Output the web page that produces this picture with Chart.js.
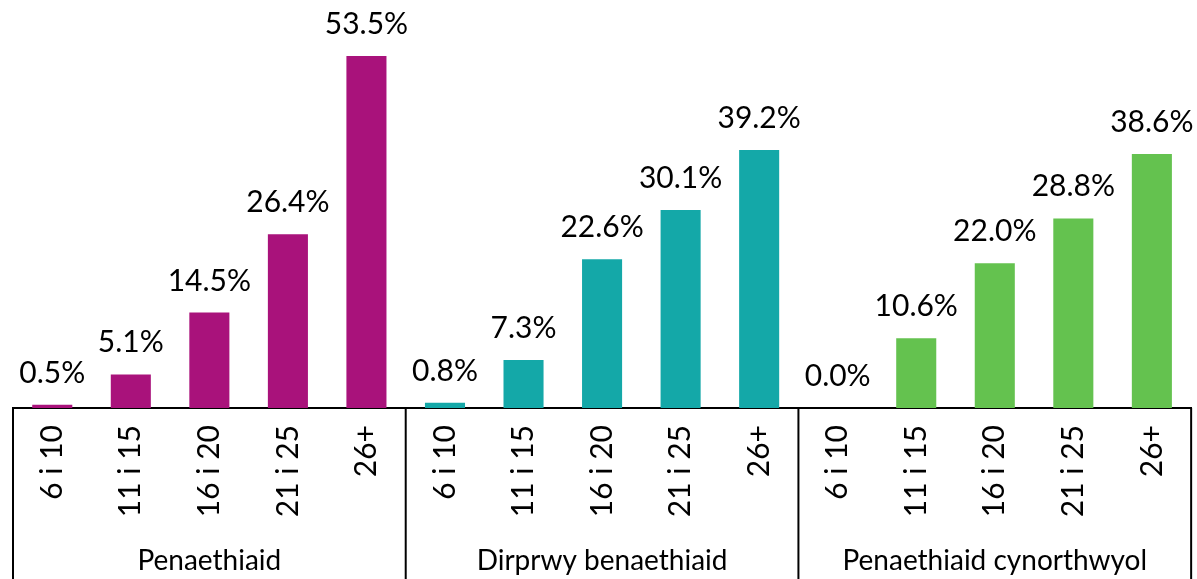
<!DOCTYPE html>
<html>
<head>
<meta charset="utf-8">
<script src="https://cdn.jsdelivr.net/npm/chart.js@4"></script>
<style>
  body { margin: 0; background: #fff; }
  #wrap { width: 1197px; height: 579px; }
</style>
</head>
<body>
<div id="wrap"><canvas id="yearsChart"></canvas></div>
<script>
const ageBands = ['6 i 10', '11 i 15', '16 i 20', '21 i 25', '26+']
const groups = ['Penaethiaid', 'Dirprwy benaethiaid', 'Penaethiaid cynorthwyol']
const headValues = [0.5, 5.1, 14.5, 26.4, 53.5]
const deputyValues = [0.8, 7.3, 22.6, 30.1, 39.2]
const assistantValues = [0.0, 10.6, 22.0, 28.8, 38.6]
const groupColors = ['#A9127B', '#14A8A8', '#64C24F']

const allValues = [...headValues, ...deputyValues, ...assistantValues]
const allLabels = groups.flatMap(() => ageBands)
const barColors = groups.flatMap((g, i) => ageBands.map(() => groupColors[i]))

const FONT = 'Lato, "Open Sans", sans-serif'

const groupPlugin = {
    id: 'groupPlugin',
    afterDatasetsDraw(chart) {
        const ctx = chart.ctx
        const meta = chart.getDatasetMeta(0)
        ctx.save()
        ctx.fillStyle = '#000'
        ctx.font = `30px ${FONT}`
        ctx.textAlign = 'center'
        ctx.textBaseline = 'alphabetic'
        meta.data.forEach((bar, i) => {
            ctx.fillText(allValues[i].toFixed(1) + '%', bar.x, bar.y - 22)
        })
        ctx.restore()
    },
    afterDraw(chart) {
        const ctx = chart.ctx
        const xs = chart.scales.x
        const half = (xs.getPixelForValue(1) - xs.getPixelForValue(0)) / 2
        const top = chart.chartArea.bottom
        const bottom = chart.height
        ctx.save()
        ctx.strokeStyle = '#000'
        ctx.lineWidth = 2
        for (let g = 0; g <= groups.length; g++) {
            const idx = Math.min(g * ageBands.length, allValues.length - 1)
            const x = g * ageBands.length < allValues.length
                ? xs.getPixelForValue(idx) - half
                : xs.getPixelForValue(idx) + half
            ctx.beginPath()
            ctx.moveTo(x, top)
            ctx.lineTo(x, bottom)
            ctx.stroke()
        }
        ctx.fillStyle = '#000'
        ctx.font = `28px ${FONT}`
        ctx.textAlign = 'center'
        groups.forEach((name, g) => {
            const first = xs.getPixelForValue(g * ageBands.length)
            const last = xs.getPixelForValue(g * ageBands.length + ageBands.length - 1)
            ctx.fillText(name, (first + last) / 2, bottom - 9)
        })
        ctx.restore()
    }
}

const ctx = document.getElementById('yearsChart').getContext('2d')

new Chart(ctx, {
    type: 'bar',
    data: {
        labels: allLabels,
        datasets: [{
            data: allValues,
            backgroundColor: barColors,
            barPercentage: 0.51,
            categoryPercentage: 1
        }]
    },
    options: {
        responsive: true,
        maintainAspectRatio: false,
        animation: false,
        layout: { padding: { left: 13, right: 4, top: 0, bottom: 0 } },
        plugins: {
            legend: { display: false },
            tooltip: { enabled: false }
        },
        scales: {
            x: {
                grid: { display: false },
                border: { display: true, color: '#000', width: 2 },
                ticks: {
                    color: '#000',
                    font: { family: FONT, size: 30 },
                    minRotation: 90,
                    maxRotation: 90,
                    autoSkip: false,
                    padding: 9
                },
                afterFit(scale) { scale.height = 171 }
            },
            y: {
                display: false,
                min: 0,
                max: 62
            }
        }
    },
    plugins: [groupPlugin]
})
</script>
</body>
</html>
